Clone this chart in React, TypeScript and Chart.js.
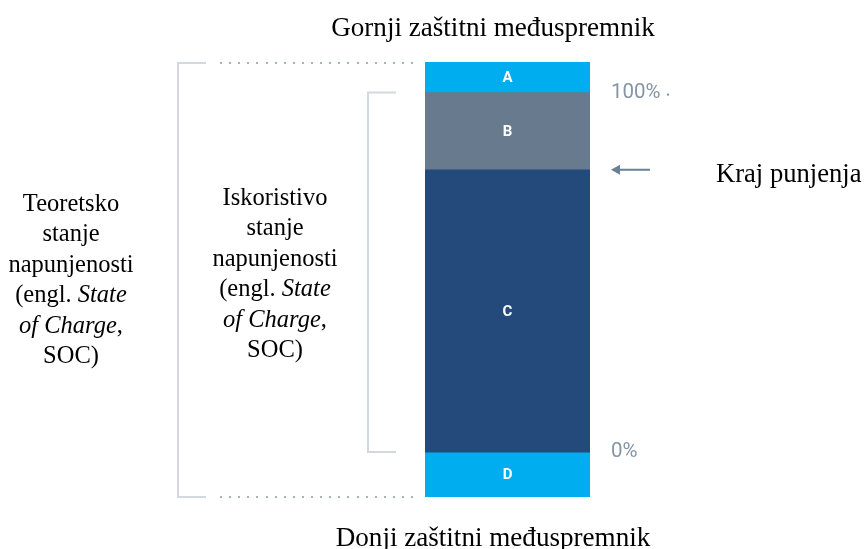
import React, { useEffect, useRef } from 'react';
import { Chart, registerables } from 'chart.js';

Chart.register(...registerables);

// ---- data ----
const categories = ['Baterija'];
const segmentNames = ['C', 'B', 'A', 'D'];
const segmentValues = [78.5, 21.5, 8.5, -12.5];
const segmentColors = ['#244a7b', '#687a8e', '#00aeef', '#00aeef'];
const tickValues = [100, 0];
const tickLabels = ['100%', '0%'];
const chargeEndValue = 78.5;
const topTitle = 'Gornji zaštitni međuspremnik';
const bottomTitle = 'Donji zaštitni međuspremnik';
const arrowLabel = 'Kraj punjenja';
type Part = { t: string; i?: boolean };
const theoreticalLines: Part[][] = [
  [{ t: 'Teoretsko' }],
  [{ t: 'stanje' }],
  [{ t: 'napunjenosti' }],
  [{ t: '(engl. ' }, { t: 'State', i: true }],
  [{ t: 'of Charge', i: true }, { t: ',' }],
  [{ t: 'SOC)' }],
];
const usableLines: Part[][] = [
  [{ t: 'Iskoristivo' }],
  [{ t: 'stanje' }],
  [{ t: 'napunjenosti' }],
  [{ t: '(engl. ' }, { t: 'State', i: true }],
  [{ t: 'of Charge', i: true }, { t: ',' }],
  [{ t: 'SOC)' }],
];

const SERIF = '"Liberation Serif", "Times New Roman", serif';
const SANS = 'Roboto, "Noto Sans", Arial, sans-serif';
const BLOCK_SIZE = 24.5;
const TITLE_SIZE = 27.1;
const LABEL_SIZE = 26.6;

function drawMixed(ctx: CanvasRenderingContext2D, parts: Part[], cx: number, y: number) {
  const fontFor = (p: Part) => `${p.i ? 'italic ' : ''}${BLOCK_SIZE}px ${SERIF}`;
  let total = 0;
  const widths = parts.map((p) => {
    ctx.font = fontFor(p);
    const w = ctx.measureText(p.t).width;
    total += w;
    return w;
  });
  let x = cx - total / 2;
  ctx.textAlign = 'left';
  ctx.textBaseline = 'alphabetic';
  parts.forEach((p, k) => {
    ctx.font = fontFor(p);
    ctx.fillText(p.t, x, y);
    x += widths[k];
  });
}

const overlayPlugin = {
  id: 'overlay',
  afterDraw(chart: any) {
    const ctx: CanvasRenderingContext2D = chart.ctx;
    const ys = chart.scales.y;
    const yTop = ys.getPixelForValue(ys.max);
    const yBot = ys.getPixelForValue(ys.min);
    const y100 = ys.getPixelForValue(tickValues[0]);
    const y0 = ys.getPixelForValue(tickValues[1]);
    ctx.save();

    // segment labels
    chart.data.datasets.forEach((ds: any, i: number) => {
      const el = chart.getDatasetMeta(i).data[0];
      const cy = (el.y + el.base) / 2;
      ctx.fillStyle = '#ffffff';
      ctx.font = `bold 15px ${SANS}`;
      ctx.textAlign = 'center';
      ctx.textBaseline = 'middle';
      ctx.fillText(ds.label, el.x, cy + 1);
    });

    // outer bracket
    ctx.strokeStyle = '#d3d8de';
    ctx.lineWidth = 2;
    ctx.beginPath();
    ctx.moveTo(206, yTop + 1);
    ctx.lineTo(178, yTop + 1);
    ctx.lineTo(178, yBot);
    ctx.lineTo(206, yBot);
    ctx.stroke();
    // inner bracket
    ctx.beginPath();
    ctx.moveTo(396, y100);
    ctx.lineTo(368, y100);
    ctx.lineTo(368, y0);
    ctx.lineTo(396, y0);
    ctx.stroke();

    // dotted lines
    ctx.fillStyle = '#a9b2bc';
    for (let x = 220; x <= 414; x += 9.1) {
      ctx.fillRect(Math.round(x), Math.round(yTop), 2, 2);
      ctx.fillRect(Math.round(x), Math.round(yBot - 1), 2, 2);
    }

    // tick labels
    ctx.fillStyle = '#8595a5';
    ctx.font = `20.5px ${SANS}`;
    ctx.textAlign = 'left';
    ctx.textBaseline = 'middle';
    tickValues.forEach((v, k) => {
      ctx.fillText(tickLabels[k], 611, ys.getPixelForValue(v));
    });
    ctx.fillRect(667, y100 + 1, 2, 2);

    // arrow
    const ya = ys.getPixelForValue(chargeEndValue);
    ctx.strokeStyle = '#6b7f95';
    ctx.fillStyle = '#6b7f95';
    ctx.lineWidth = 2;
    ctx.beginPath();
    ctx.moveTo(650, ya);
    ctx.lineTo(616, ya);
    ctx.stroke();
    ctx.beginPath();
    ctx.moveTo(611, ya);
    ctx.lineTo(620, ya - 5);
    ctx.lineTo(620, ya + 5);
    ctx.closePath();
    ctx.fill();

    // serif texts
    ctx.fillStyle = '#000000';
    ctx.font = `${TITLE_SIZE}px ${SERIF}`;
    ctx.textAlign = 'center';
    ctx.textBaseline = 'alphabetic';
    ctx.fillText(topTitle, 493, 36);
    ctx.fillText(bottomTitle, 493, 546);
    ctx.font = `${LABEL_SIZE}px ${SERIF}`;
    ctx.textAlign = 'left';
    ctx.fillText(arrowLabel, 716, 182);

    theoreticalLines.forEach((ln, k) => drawMixed(ctx, ln, 71, 211 + k * 30.4));
    usableLines.forEach((ln, k) => drawMixed(ctx, ln, 275, 205 + k * 30.4));

    ctx.restore();
  },
};

export default function App() {
  const ref = useRef<HTMLCanvasElement | null>(null);
  useEffect(() => {
    if (!ref.current) return;
    const posSum = segmentValues.filter((v) => v > 0).reduce((a, b) => a + b, 0);
    const negSum = segmentValues.filter((v) => v < 0).reduce((a, b) => a + b, 0);
    const chart = new Chart(ref.current, {
      type: 'bar',
      data: {
        labels: categories,
        datasets: segmentNames.map((n, i) => ({
          label: n,
          data: [segmentValues[i]],
          backgroundColor: segmentColors[i],
          borderWidth: 0,
          barPercentage: 1,
          categoryPercentage: 1,
        })),
      },
      options: {
        responsive: false,
        animation: false,
        devicePixelRatio: 1,
        layout: { padding: { left: 425, right: 274, top: 62, bottom: 52 } },
        plugins: { legend: { display: false }, tooltip: { enabled: false }, title: { display: false } },
        scales: {
          x: { stacked: true, display: false },
          y: { stacked: true, display: false, min: negSum, max: posSum },
        },
      },
      plugins: [overlayPlugin],
    });
    return () => chart.destroy();
  }, []);
  return (
    <div style={{ position: 'fixed', left: 0, top: 0, width: 864, height: 549, background: '#fff' }}>
      <canvas ref={ref} width={864} height={549} />
    </div>
  );
}
